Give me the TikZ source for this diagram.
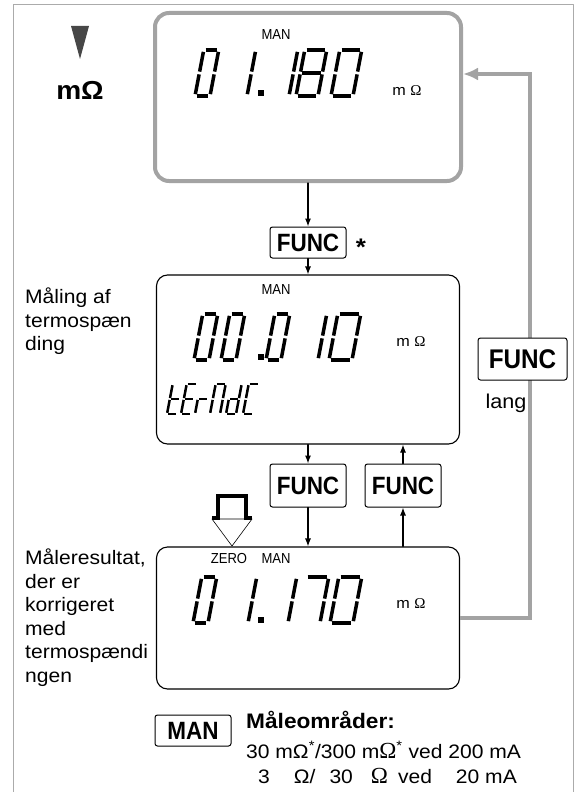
\documentclass[tikz,border=0pt]{standalone}
\usepackage{fontspec}
\setmainfont[FakeStretch=1.08]{Liberation Sans}
\newfontfamily\condfont[FakeStretch=0.9]{Liberation Sans}
\newfontfamily\serffont{Liberation Serif}
\usepackage{tikz}
\usetikzlibrary{arrows.meta}

\definecolor{framegray}{HTML}{ABABAB}
\definecolor{dispgray}{HTML}{A3A3A3}
\definecolor{markgray}{HTML}{474747}

\newcommand{\lcdglyph}[5]{%
  \begin{scope}[shift={(#1,#2)}, xslant=0.19]
    \coordinate (sa1) at ({#4*0.04},{-#4}); \coordinate (sa2) at ({#3-#4*0.04},{-#4});
    \coordinate (sb1) at (#3,{-#4*0.96}); \coordinate (sb2) at (#3,{-#4*0.53});
    \coordinate (sc1) at (#3,{-#4*0.47}); \coordinate (sc2) at (#3,{-#4*0.04});
    \coordinate (sd1) at ({#4*0.04},0); \coordinate (sd2) at ({#3-#4*0.04},0);
    \coordinate (se1) at (0,{-#4*0.04}); \coordinate (se2) at (0,{-#4*0.47});
    \coordinate (sf1) at (0,{-#4*0.53}); \coordinate (sf2) at (0,{-#4*0.96});
    \coordinate (sg1) at ({#4*0.04},{-#4*0.5}); \coordinate (sg2) at ({#3-#4*0.04},{-#4*0.5});
    \foreach \sg in {#5} \draw[lcdseg] (s\sg1) -- (s\sg2);
  \end{scope}}

\begin{document}
\begin{tikzpicture}[x=1pt, y=-1pt, line cap=round, line join=round,
  lcdseg/.style={line width=3.5pt, line cap=butt},
  disp/.style={draw, line width=1.1pt, rounded corners=11pt, minimum width=303pt, inner sep=0pt},
  key/.style={draw, line width=1pt, rounded corners=2.5pt, fill=white, inner sep=0pt, minimum width=76pt, font=\condfont\bfseries\fontsize{25}{25}\selectfont},
  tag/.style={font=\condfont\fontsize{14.5}{14.5}\selectfont, inner sep=0pt},
  unit/.style={font=\fontsize{15}{15}\selectfont, inner sep=0pt},
  note/.style={anchor=north west, align=left, inner sep=0pt, font=\fontsize{19.5}{23.5}\selectfont},
  arr/.style={line width=1.1pt, -{Latex[length=8pt,width=6pt]}},
  back/.style={draw=dispgray, line width=4.5pt, line cap=butt, line join=miter, -{Latex[length=15pt,width=13pt]}}]

\useasboundingbox (0,0) rectangle (575,792);
\draw[framegray, line width=0.8pt] (13,792) -- (13,4) -- (573,4) -- (573,792);

\fill[markgray] (71,26) -- (89,26) -- (80,59) -- cycle;
\node[font=\bfseries\fontsize{26}{26}\selectfont, inner sep=0pt] (selunit) at (80,90) {mΩ};

\node[disp, draw=dispgray, line width=4pt, rounded corners=14pt, minimum width=306pt, minimum height=168pt] (dtop) at (308,97) {};
\node[disp, minimum height=169pt] (dmid) at (308,359.5) {};
\node[disp, minimum height=142pt] (dbot) at (308,618) {};

\coordinate (backc) at (530,74);
\draw[back] (dbot.east) -| (backc) -- (dtop.east |- backc);

\node[key, minimum height=31pt] (func1) at (308,242.5) {FUNC};
\node[font=\bfseries\fontsize{24}{24}\selectfont, inner sep=0pt] (star) at (361,247) {*};
\node[key, minimum height=43pt] (func2) at (308,485.5) {FUNC};
\node[key, minimum height=43pt] (func3) at (403,485.5) {FUNC};
\node[key, minimum width=89pt, minimum height=42pt, font=\condfont\bfseries\fontsize{27}{27}\selectfont] (funcr) at (522.5,359) {FUNC};
\node[font=\fontsize{20}{20}\selectfont, inner sep=0pt] (lang) at (506,403) {lang};

\draw[arr] (dtop.south) -- (func1.north);
\draw[arr] (func1.south) -- (dmid.north);
\draw[arr] (dmid.south) -- (func2.north);
\draw[arr] (func2.south) -- (dbot.north);
\draw[arr] (dbot.north -| func3) -- (func3.south);
\draw[arr] (func3.north) -- (dmid.south -| func3);

\node[note] (notemeas) at (25,288) {Måling af\\termospæn\\ding};
\node[note] (noteres) at (25,549) {Måleresultat,\\der er\\korrigeret\\med\\termospændi\\ngen};

\node[tag] (mantop) at (276,35) {MAN};
\lcdglyph{195}{96}{15}{46}{a,b,c,d,e,f}
\lcdglyph{234}{96}{13}{46}{b,c}
\fill (258,96) rectangle (264,90);
\lcdglyph{276}{96}{13}{46}{b,c}
\lcdglyph{296}{96}{22}{46}{a,b,c,d,e,f,g}
\lcdglyph{331}{96}{22}{46}{a,b,c,d,e,f}
\node[unit] (unittop) at (407,91) {m {\serffont Ω}};

\node[tag] (manmid) at (276,290) {MAN};
\lcdglyph{194}{360}{15}{46}{a,b,c,d,e,f}
\lcdglyph{221}{360}{15}{46}{a,b,c,d,e,f}
\fill (258,360) rectangle (264,354);
\lcdglyph{266}{360}{15}{46}{a,b,c,d,e,f}
\lcdglyph{295}{360}{23}{46}{b,c}
\lcdglyph{329}{360}{23}{46}{a,b,c,d,e,f}
\node[unit] (unitmid) at (411,342) {m {\serffont Ω}};
\begin{scope}[lcdseg/.style={line width=2.5pt, line cap=butt}]
\lcdglyph{167}{414}{10}{30}{d,e,f,g}
\lcdglyph{181}{414}{10}{30}{a,d,e,f,g}
\lcdglyph{195}{414}{10}{30}{e,g}
\lcdglyph{210}{414}{10}{30}{a,b,c,e,f}
\lcdglyph{226}{414}{10}{30}{b,c,d,e,g}
\lcdglyph{243}{414}{10}{30}{a,d,e,f}
\end{scope}

\filldraw[fill=white, line width=0.6pt] (212,519) -- (252,519) -- (232,546) -- cycle;
\draw[line width=3.2pt, line cap=butt, line join=miter] (212,518) -- (218,518) -- (218,496) -- (246,496) -- (246,518) -- (252,518);
\node[tag] (zerobot) at (229,559) {ZERO};
\node[tag] (manbot) at (276,559) {MAN};
\lcdglyph{193}{623}{15}{46}{a,b,c,d,e,f}
\lcdglyph{234}{623}{14}{46}{b,c}
\fill (258,623) rectangle (264,617);
\lcdglyph{274}{623}{14}{46}{b,c}
\lcdglyph{297}{623}{23}{46}{a,b,c}
\lcdglyph{330}{623}{23}{46}{a,b,c,d,e,f}
\node[unit] (unitbot) at (411,604) {m {\serffont Ω}};

\node[key, minimum height=31pt] (mankey) at (193,730.5) {MAN};
\node[anchor=west, inner sep=0pt, font=\bfseries\fontsize{21}{21}\selectfont] (rngtitle) at (246,720) {Måleområder:};
\node[anchor=west, inner sep=0pt, font=\fontsize{19.5}{19.5}\selectfont] (rngone) at (246,750) {30 mΩ\textsuperscript{*}/300 m{\serffont\fontsize{23}{23}\selectfont Ω}\textsuperscript{*} ved 200 mA};
\node[anchor=west, inner sep=0pt, font=\fontsize{19.5}{19.5}\selectfont] (rngtwo) at (258,776) {3\hspace{24pt}Ω/\hspace{14pt}30\hspace{18pt}{\serffont\fontsize{23}{23}\selectfont Ω}\hspace{10pt}ved\hspace{24pt}20 mA};
\end{tikzpicture}
\end{document}
